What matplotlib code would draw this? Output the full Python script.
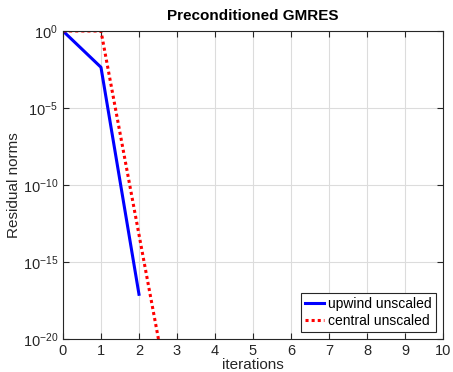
import numpy as np
import matplotlib
matplotlib.use('Agg')
from matplotlib import pyplot as plt

plt.rcParams['font.family'] = ['Liberation Sans', 'DejaVu Sans']

# residual norms per iteration
it_upwind = [0, 1, 2]
res_upwind = [1.0, 4.4e-3, 8e-18]
it_central = [0, 1, 2, 3]
res_central = [1.0, 1.0, 6e-14, 3.5e-27]

fig = plt.figure(figsize=(4.53, 3.72), dpi=100)
ax = fig.add_axes([0.139, 0.0887, 0.839, 0.828])

ax.semilogy(it_upwind, res_upwind, color='blue', lw=2.2, label='upwind unscaled')
ax.semilogy(it_central, res_central, color='red', lw=2.2, ls=(0, (1, 1)),
            label='central unscaled')

ax.set_xlim(0, 10)
ax.set_ylim(1e-20, 1)
ax.set_xticks(range(0, 11))
ax.set_yticks([1e-20, 1e-15, 1e-10, 1e-5, 1])
ax.yaxis.set_minor_locator(matplotlib.ticker.NullLocator())
ax.grid(True, color='#dcdcdc', lw=0.8)
ax.set_axisbelow(True)
ax.tick_params(direction='in', top=True, right=True, labelsize=10.5,
               length=4, colors='#262626', labelcolor='#262626')
for s in ax.spines.values():
    s.set_color('#262626')

ax.set_xlabel('iterations', fontsize=11, labelpad=0, color='#262626')
ax.set_ylabel('Residual norms', fontsize=11, labelpad=1, color='#262626')
ax.set_title('Preconditioned GMRES', fontsize=11, fontweight='bold', pad=8)

leg = ax.legend(loc='lower right', fontsize=10, fancybox=False, framealpha=1,
                edgecolor='#262626', handlelength=1.4, borderpad=0.3,
                labelspacing=0.2, handletextpad=0.3, borderaxespad=0.5)
leg.get_frame().set_linewidth(0.8)

fig.savefig('out.png', dpi=100)
